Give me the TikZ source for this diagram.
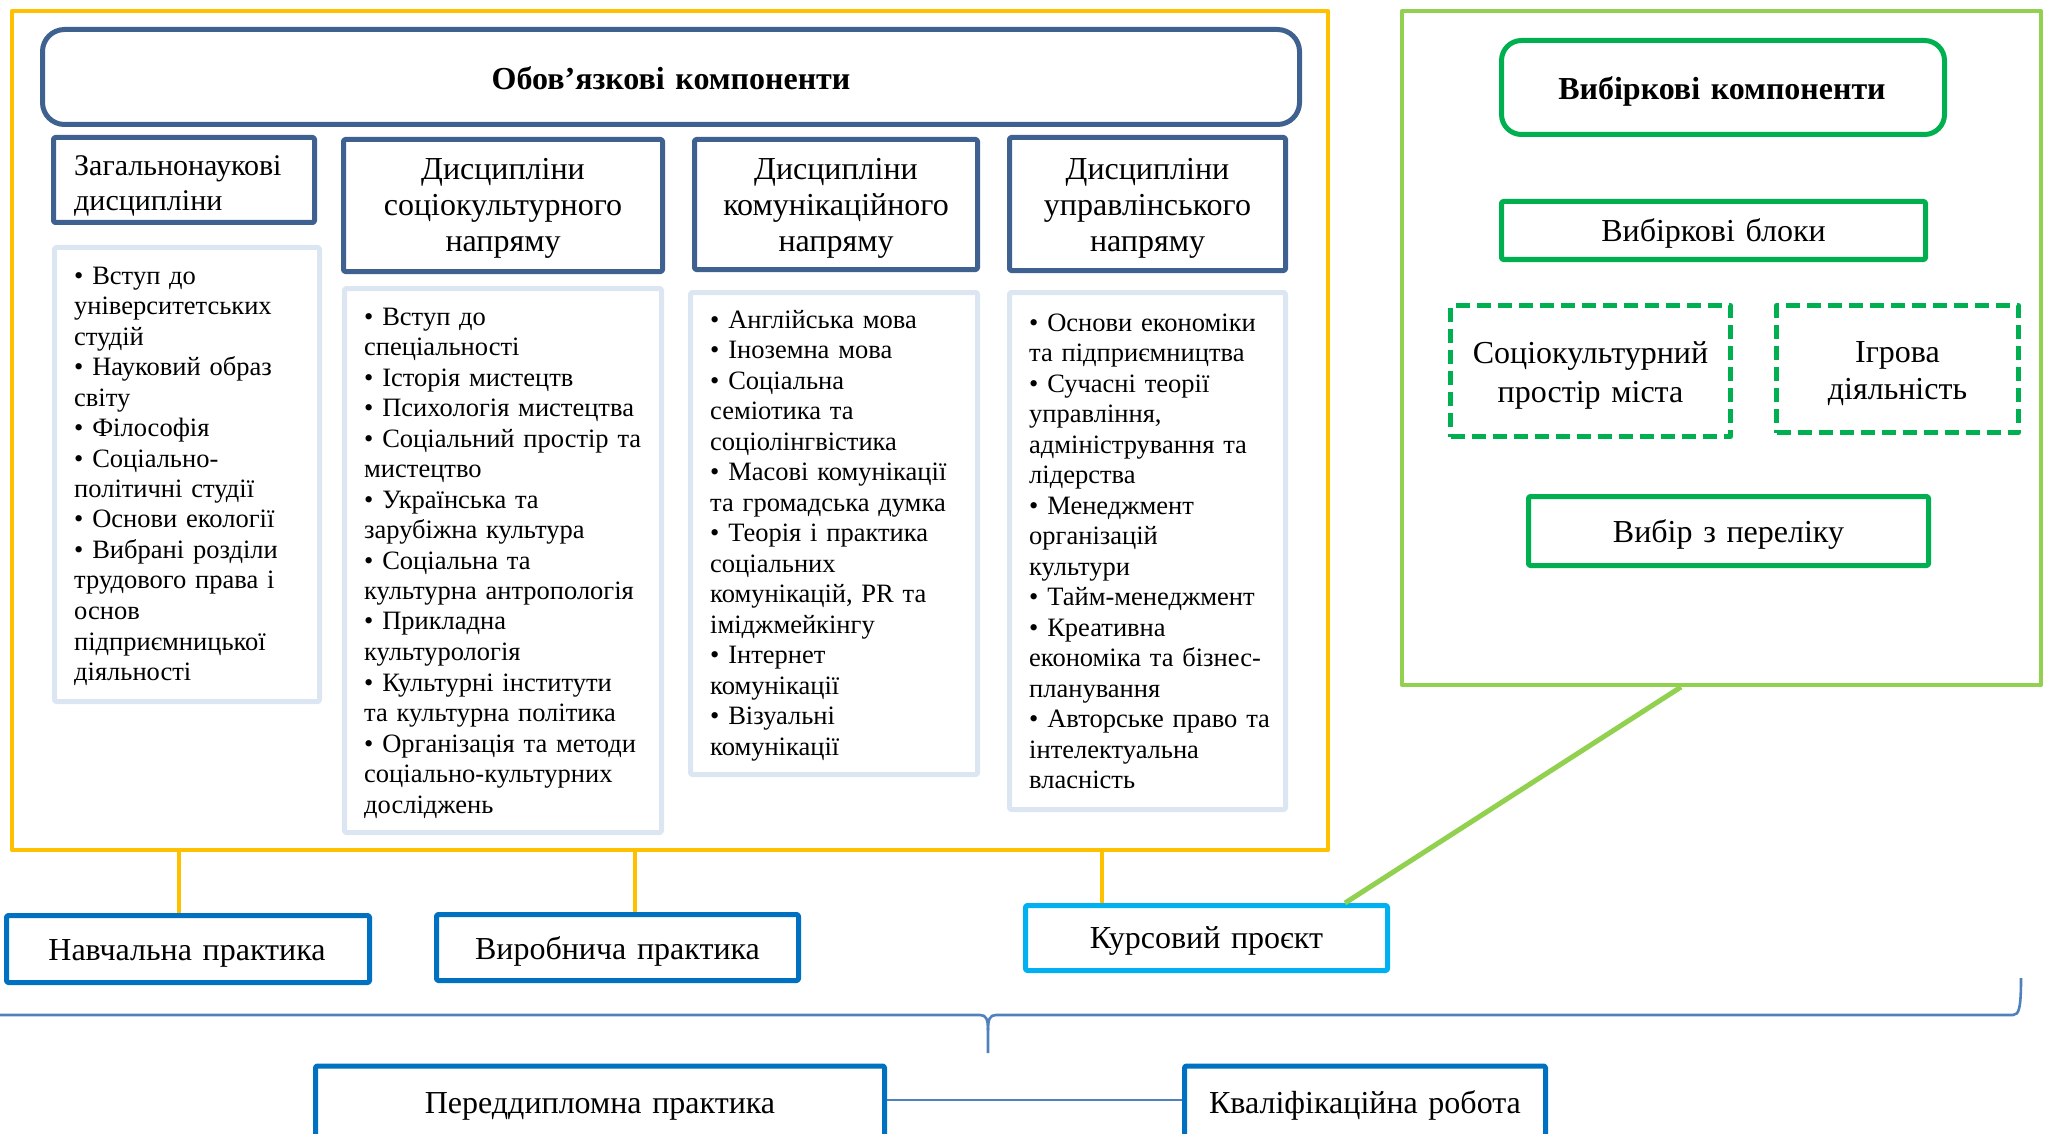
\documentclass[tikz,border=0pt]{standalone}
\usepackage{fontspec}
\setmainfont{Liberation Serif}
\definecolor{yel}{HTML}{FFC000}
\definecolor{dblue}{HTML}{3E6190}
\definecolor{lbox}{HTML}{DCE6F2}
\definecolor{lgreen}{HTML}{92D050}
\definecolor{green}{HTML}{00B050}
\definecolor{mblue}{HTML}{0070C0}
\definecolor{sky}{HTML}{00B0F0}
\definecolor{brc}{HTML}{4F81BD}
\begin{document}
\begin{tikzpicture}[x=1pt,y=-1pt,
  frame/.style={draw, inner sep=0pt, line join=round},
  yframe/.style={frame, draw=yel, line width=4pt},
  gframe/.style={frame, draw=lgreen, line width=4pt},
  hbox/.style={frame, draw=dblue, line width=5pt, rounded corners=1.5pt},
  lbx/.style={frame, draw=lbox, line width=5pt, rounded corners=1.5pt},
  gbox/.style={frame, draw=green, line width=5pt, rounded corners=1.5pt},
  dbox/.style={frame, draw=green, line width=5pt, dash pattern=on 14pt off 7pt},
  pbox/.style={frame, draw=mblue, line width=5pt, rounded corners=1.5pt},
  sbox/.style={frame, draw=sky, line width=5pt, rounded corners=1.5pt},
  btxt/.style={inner sep=0pt, anchor=base west, align=left, text width=320pt, font=\fontsize{26.5}{30.5}\selectfont},
  ctxt/.style={inner sep=0pt, anchor=base, align=center, text width=460pt, font=\fontsize{32}{36}\selectfont},
  ytie/.style={draw=yel, line width=4pt},
  thin/.style={draw=brc, line width=2.2pt}
]
\useasboundingbox (0,0) rectangle (2051,1134);
\clip (0,0) rectangle (2051,1134);

% ---------- compulsory block ----------
\node[yframe, minimum width=1316pt, minimum height=839pt] (oblig) at (670,430.5) {};
\node[hbox, rounded corners=22pt, minimum width=1257pt, minimum height=95pt] (title) at (671,77) {};
\node[ctxt, font=\bfseries\fontsize{32}{36}\selectfont] (titlet) at (671,90) {Обов’язкові компоненти};

\node[hbox, minimum width=261pt, minimum height=85pt] (h1) at (184,180) {};
\node[btxt, font=\fontsize{30}{35}\selectfont] (h1t) at (74,176) {Загальнонаукові\\дисципліни};
\node[hbox, minimum width=319pt, minimum height=132pt] (h2) at (503,205.5) {};
\node[ctxt] (h2t) at (503,180) {Дисципліни\\соціокультурного\\напряму};
\node[hbox, minimum width=283pt, minimum height=130pt] (h3) at (836,204.5) {};
\node[ctxt] (h3t) at (836,180) {Дисципліни\\комунікаційного\\напряму};
\node[hbox, minimum width=276pt, minimum height=133pt] (h4) at (1147.5,204) {};
\node[ctxt] (h4t) at (1147.5,180) {Дисципліни\\управлінського\\напряму};

\node[lbx, minimum width=265pt, minimum height=454pt] (c1) at (187,474.5) {};
\node[btxt] (c1t) at (74,284) {• Вступ до\\університетських\\студій\\• Науковий образ\\світу\\• Філософія\\• Соціально-\\політичні студії\\• Основи екології\\• Вибрані розділи\\трудового права і\\основ\\підприємницької\\діяльності};
\node[lbx, minimum width=317pt, minimum height=544pt] (c2) at (503,560.5) {};
\node[btxt] (c2t) at (364,325) {• Вступ до\\спеціальності\\• Історія мистецтв\\• Психологія мистецтва\\• Соціальний простір та\\мистецтво\\• Українська та\\зарубіжна культура\\• Соціальна та\\культурна антропологія\\• Прикладна\\культурологія\\• Культурні інститути\\та культурна політика\\• Організація та методи\\соціально-культурних\\досліджень};
\node[lbx, minimum width=287pt, minimum height=482pt] (c3) at (834,533.5) {};
\node[btxt] (c3t) at (710,328) {• Англійська мова\\• Іноземна мова\\• Соціальна\\семіотика та\\соціолінгвістика\\• Масові комунікації\\та громадська думка\\• Теорія і практика\\соціальних\\комунікацій, PR та\\іміджмейкінгу\\• Інтернет\\комунікації\\• Візуальні\\комунікації};
\node[lbx, minimum width=276pt, minimum height=517pt] (c4) at (1147.5,551) {};
\node[btxt] (c4t) at (1029,331) {• Основи економіки\\та підприємництва\\• Сучасні теорії\\управління,\\адміністрування та\\лідерства\\• Менеджмент\\організацій\\культури\\• Тайм-менеджмент\\• Креативна\\економіка та бізнес-\\планування\\• Авторське право та\\інтелектуальна\\власність};

% ---------- elective block ----------
\node[gframe, minimum width=639pt, minimum height=674pt] (vib) at (1721.5,348) {};
\node[gbox, rounded corners=20pt, minimum width=443pt, minimum height=94pt] (vk) at (1723,87.5) {};
\node[ctxt, font=\bfseries\fontsize{32}{36}\selectfont] (vkt) at (1722,100) {Вибіркові компоненти};
\node[gbox, minimum width=424pt, minimum height=58pt] (vb) at (1713.5,230.5) {};
\node[ctxt] (vbt) at (1713.5,241) {Вибіркові блоки};
\node[dbox, minimum width=280pt, minimum height=131pt] (d1) at (1590.5,371) {};
\node[ctxt, font=\fontsize{32}{39}\selectfont] (d1t) at (1590.5,363) {Соціокультурний\\простір міста};
\node[dbox, minimum width=242pt, minimum height=127pt] (d2) at (1897.5,369) {};
\node[ctxt, font=\fontsize{32}{37}\selectfont] (d2t) at (1897.5,362) {Ігрова\\діяльність};
\node[gbox, minimum width=400pt, minimum height=69pt] (vp) at (1728.5,531) {};
\node[ctxt] (vpt) at (1728.5,542) {Вибір з переліку};

% ---------- bottom ----------
\node[pbox, minimum width=363pt, minimum height=67pt] (nav) at (188,949) {};
\node[ctxt] (navt) at (187,960) {Навчальна практика};
\node[pbox, minimum width=362pt, minimum height=66pt] (vyr) at (617.5,947.5) {};
\node[ctxt] (vyrt) at (617.5,959) {Виробнича практика};
\node[sbox, minimum width=362pt, minimum height=65pt] (kur) at (1206.5,938) {};
\node[ctxt] (kurt) at (1206.5,948) {Курсовий проєкт};
\node[pbox, minimum width=569pt, minimum height=74pt] (per) at (600,1103) {};
\node[ctxt] (pert) at (600,1113) {Переддипломна практика};
\node[pbox, minimum width=361pt, minimum height=74pt] (kva) at (1365,1103) {};
\node[ctxt] (kvat) at (1365,1113) {Кваліфікаційна робота};

% connectors
\draw[ytie] (179,0 |- oblig.south) -- (179,0 |- nav.north);
\draw[ytie] (635,0 |- oblig.south) -- (635,0 |- vyr.north);
\draw[ytie] (1102,0 |- oblig.south) -- (1102,0 |- kur.north);
\draw[draw=lgreen, line width=5pt] (1681,0 |- vib.south) -- (1345,0 |- kur.north);
\draw[thin] (per.east |- 0,1100) -- (kva.west |- 0,1100);

% brace
\coordinate (bl) at (-20,1015);
\coordinate (btip) at (988,1053);
\coordinate (br) at (2021,978);
\draw[thin, line width=2.6pt] (bl) -- (980,1015) .. controls (986,1015) and (988,1019) .. (988,1030) -- (btip);
\draw[thin, line width=2.6pt] (988,1030) .. controls (988,1019) and (990,1015) .. (996,1015) -- (2013,1015) .. controls (2019,1015) and (2021,1008) .. (br);
\end{tikzpicture}
\end{document}
